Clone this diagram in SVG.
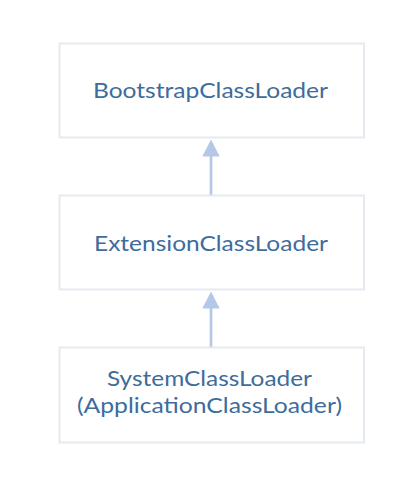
<svg xmlns="http://www.w3.org/2000/svg" width="411" height="495" viewBox="0 0 411 495">
<style>
.box{fill:#ffffff;stroke:#e5eaf1;stroke-width:2}
.lbl{font-family:Lato,"Liberation Sans",sans-serif;font-size:22px;fill:#3e6c9b;text-anchor:middle}
.conn{stroke:#b4c7e7;stroke-width:2.7;fill:none}
.head{fill:#b4c7e7}
</style>
<rect width="411" height="495" fill="#ffffff"/>
<g id="connectors">
<line class="conn" x1="211" y1="195" x2="211" y2="154"/>
<polygon class="head" points="211,139.5 202.3,156.5 219.7,156.5"/>
<line class="conn" x1="211" y1="347" x2="211" y2="306"/>
<polygon class="head" points="211,291.5 202.3,308.5 219.7,308.5"/>
</g>
<g id="bootstrap">
<rect class="box" x="59.5" y="43.5" width="304.5" height="94"/>
<text class="lbl" x="210.5" y="97.5" textLength="235" lengthAdjust="spacingAndGlyphs">BootstrapClassLoader</text>
</g>
<g id="extension">
<rect class="box" x="59.5" y="195.5" width="304.5" height="94"/>
<text class="lbl" x="211" y="251" textLength="234" lengthAdjust="spacingAndGlyphs">ExtensionClassLoader</text>
</g>
<g id="system">
<rect class="box" x="59.5" y="347.5" width="304.5" height="95"/>
<text class="lbl" x="209.5" y="386" textLength="205" lengthAdjust="spacingAndGlyphs">SystemClassLoader</text>
<text class="lbl" x="209.5" y="413" textLength="265" lengthAdjust="spacingAndGlyphs">(ApplicationClassLoader)</text>
</g>
</svg>
